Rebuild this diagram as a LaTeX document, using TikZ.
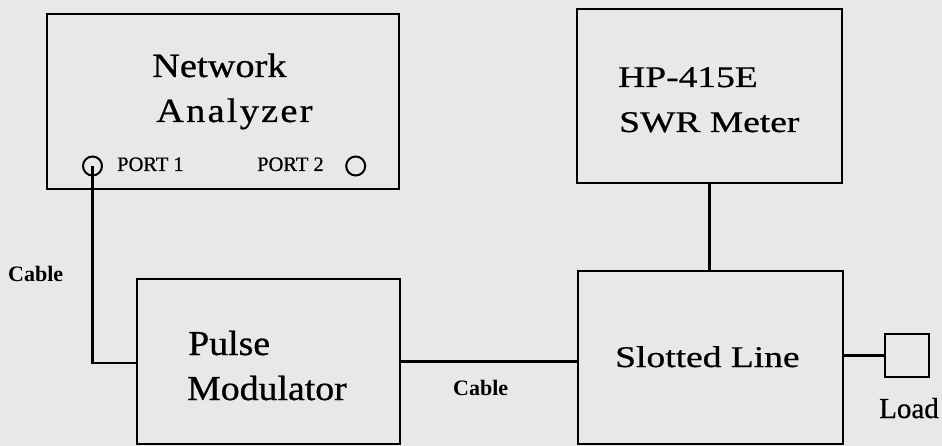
\documentclass[tikz,border=0pt]{standalone}
\usepackage{fontspec}
\setmainfont{Liberation Serif}
\newfontfamily\fnet[FakeStretch=1.13,FakeBold=0.7]{Liberation Serif}
\newfontfamily\fana[FakeStretch=1.13,LetterSpace=6.5,FakeBold=0.7]{Liberation Serif}
\newfontfamily\fhp[FakeStretch=1.25,FakeBold=0.7]{Liberation Serif}
\newfontfamily\fpm[FakeStretch=1.08,FakeBold=0.7]{Liberation Serif}
\newfontfamily\fsm[FakeBold=0.7]{Liberation Serif}
\definecolor{paper}{RGB}{232,232,232}
\begin{document}
\begin{tikzpicture}[x=1pt,y=1pt,
  box/.style={draw=black, line width=2.4pt, rectangle, inner sep=0pt},
  port/.style={draw=black, line width=2pt, circle, inner sep=0pt, minimum size=19pt},
  wire/.style={draw=black, line width=2.2pt},
  lbl/.style={anchor=base west, inner sep=0pt, text=black}]
\useasboundingbox (0,0) rectangle (942,-446);
\fill[paper] (0,0) rectangle (942,-446);
% boxes
\node[box, minimum width=352pt, minimum height=175pt] (na) at (223,-101.5) {};
\node[box, minimum width=265pt, minimum height=174pt] (hp) at (709.5,-96) {};
\node[box, minimum width=263pt, minimum height=165pt] (pm) at (268.5,-361.5) {};
\node[box, minimum width=265pt, minimum height=173pt] (sl) at (710.5,-357.5) {};
\node[box, minimum width=44pt, minimum height=43pt] (ld) at (907,-355.5) {};
\node[port] (p1) at (92.5,-166) {};
\node[port] (p2) at (355.7,-166) {};
% texts
\node[lbl] (t1) at (152,-77) {\fontsize{34}{36}\fnet Network};
\node[lbl] (t2) at (156,-122) {\fontsize{34}{36}\fana Analyzer};
\node[lbl] (t3) at (117,-171) {\fontsize{20.5}{22}\fsm PORT 1};
\node[lbl] (t4) at (257,-171) {\fontsize{20.5}{22}\fsm PORT 2};
\node[lbl] (t5) at (618,-87) {\fontsize{30}{32}\fhp HP-415E};
\node[lbl] (t6) at (619,-132) {\fontsize{30}{32}\fhp SWR Meter};
\node[lbl] (t7) at (188,-355) {\fontsize{35}{37}\fpm Pulse};
\node[lbl] (t8) at (187,-400) {\fontsize{35}{37}\fpm Modulator};
\node[lbl] (t9) at (615,-367) {\fontsize{30}{32}\fhp Slotted Line};
\node[lbl] (t10) at (879,-418) {\fontsize{29}{31}\fsm Load};
\node[lbl] (c1) at (8,-282) {\fontsize{22}{24}\selectfont\bfseries Cable};
\node[lbl] (c2) at (453,-395) {\fontsize{22}{24}\selectfont\bfseries Cable};
% connectors
\coordinate (k1) at (92.5,-363);
\draw[wire] (p1.center) -- (k1) -- (k1 -| pm.west);
\draw[wire] (pm.east) -- (pm.east -| sl.west);
\draw[wire] (hp.south) -- (hp.south |- sl.north);
\draw[wire] (sl.east |- ld.west) -- (ld.west);
\end{tikzpicture}
\end{document}
